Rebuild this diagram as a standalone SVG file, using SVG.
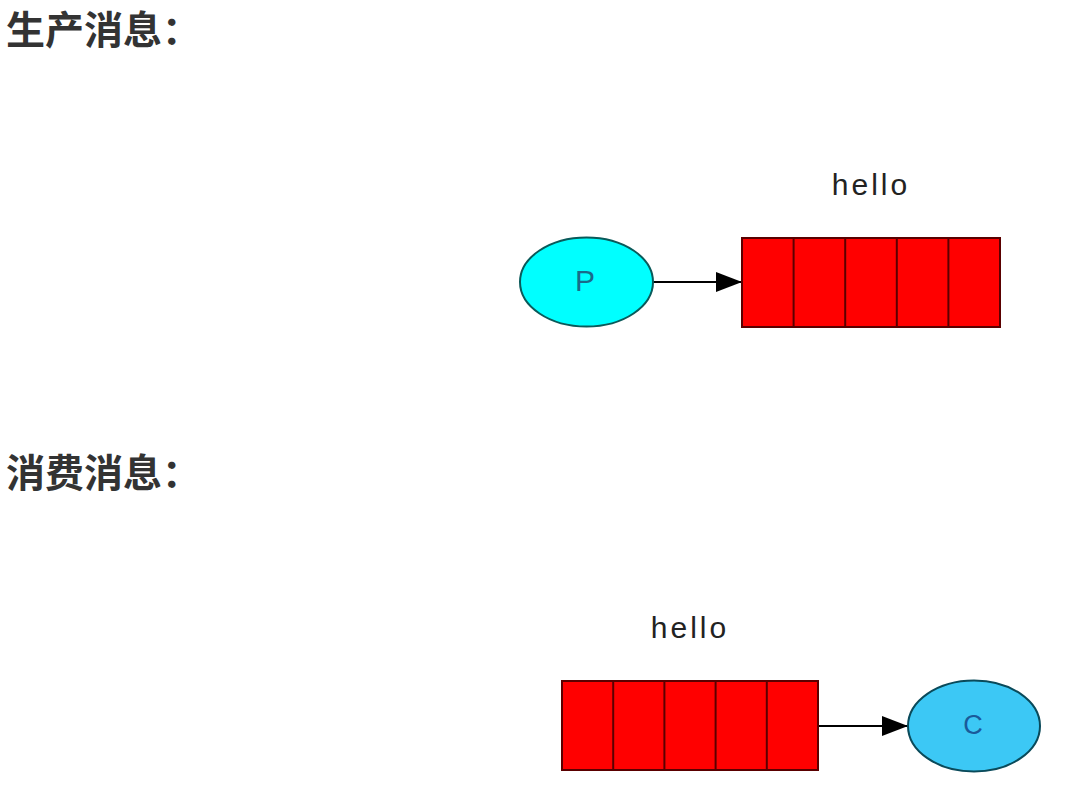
<svg xmlns="http://www.w3.org/2000/svg" width="1091" height="800" viewBox="0 0 1091 800">
<style>
.title{font-family:"Noto Sans CJK SC","Noto Sans",sans-serif;font-weight:bold;font-size:39px;fill:#333333}
.lbl{font-family:"Liberation Sans",Arial,sans-serif;font-size:30px;fill:#222222;text-anchor:middle;letter-spacing:3px}
.nlbl{font-family:"Liberation Sans",Arial,sans-serif;text-anchor:middle}
.q{fill:#ff0000;stroke:#5a0000;stroke-width:2}
.div{stroke:#5a0000;stroke-width:2}
.edge{stroke:#000;stroke-width:2;fill:none}
</style>
<defs>
<marker id="ah" markerUnits="userSpaceOnUse" markerWidth="26" markerHeight="20" refX="26" refY="10" orient="auto">
<path d="M0,0 L26,10 L0,20 Z" fill="#000"/>
</marker>
</defs>
<rect width="1091" height="800" fill="#ffffff"/>
<text class="title" x="6" y="44">生产消息：</text>
<text class="title" x="6" y="487">消费消息：</text>
<g id="connectors">
<line class="edge" x1="653" y1="282" x2="742" y2="282" marker-end="url(#ah)"/>
<line class="edge" x1="818" y1="726" x2="908" y2="726" marker-end="url(#ah)"/>
</g>
<g id="producer">
<ellipse cx="586.5" cy="282" rx="66.5" ry="44.5" fill="#00ffff" stroke="#0a5a5a" stroke-width="2"/>
<text class="nlbl" x="585" y="291" font-size="30" fill="#1a6a8a">P</text>
</g>
<g id="queue-top">
<text class="lbl" x="871" y="195">hello</text>
<rect class="q" x="742" y="238" width="258" height="89"/>
<line class="div" x1="793.6" y1="238" x2="793.6" y2="327"/>
<line class="div" x1="845.2" y1="238" x2="845.2" y2="327"/>
<line class="div" x1="896.8" y1="238" x2="896.8" y2="327"/>
<line class="div" x1="948.4" y1="238" x2="948.4" y2="327"/>
</g>
<g id="queue-bottom">
<text class="lbl" x="690" y="638">hello</text>
<rect class="q" x="562" y="681" width="256" height="89"/>
<line class="div" x1="613.2" y1="681" x2="613.2" y2="770"/>
<line class="div" x1="664.4" y1="681" x2="664.4" y2="770"/>
<line class="div" x1="715.6" y1="681" x2="715.6" y2="770"/>
<line class="div" x1="766.8" y1="681" x2="766.8" y2="770"/>
</g>
<g id="consumer">
<ellipse cx="974" cy="726" rx="66" ry="45.5" fill="#3cc8f5" stroke="#0a4a5a" stroke-width="2"/>
<text class="nlbl" x="973" y="734" font-size="27" fill="#1a5a9a">C</text>
</g>
</svg>
